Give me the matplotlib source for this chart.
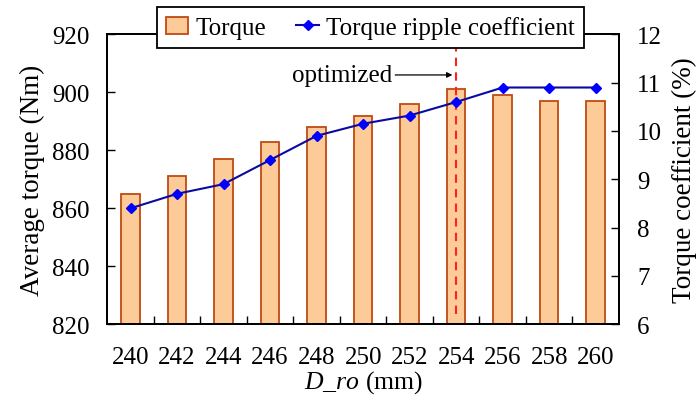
import matplotlib.pyplot as plt
from matplotlib.ticker import FixedLocator, NullFormatter

plt.rcParams['font.family'] = ['Liberation Serif', 'DejaVu Serif']
plt.rcParams['mathtext.fontset'] = 'custom'
plt.rcParams['mathtext.rm'] = 'Liberation Serif'
plt.rcParams['mathtext.it'] = 'Liberation Serif:italic'

# Данные
d_ro = ['240', '242', '244', '246', '248', '250', '252', '254', '256', '258', '260']
torque = [865, 871, 877, 883, 888, 892, 896, 901, 899, 897, 897]
ripple = [8.4, 8.7, 8.9, 9.4, 9.9, 10.15, 10.32, 10.6, 10.9, 10.9, 10.9]
optimized_idx = 7

x = list(range(len(d_ro)))

fig = plt.figure(figsize=(6.97, 4.02), dpi=100)
ax = fig.add_axes([0.154, 0.191, 0.734, 0.721])

bars = ax.bar(x, torque, width=0.4, color='#FDCB98', edgecolor='#C04A12',
              linewidth=1.3, label='Torque', zorder=2)
ax.set_ylim(820, 920)
ax.set_xlim(-0.5, len(d_ro) - 0.5)
ax.set_yticks([820, 840, 860, 880, 900, 920])
ax.set_xticks(x)
ax.set_xticklabels(d_ro)
ax.xaxis.set_minor_locator(FixedLocator([i + 0.5 for i in x[:-1]]))
ax.xaxis.set_minor_formatter(NullFormatter())
ax.tick_params(axis='x', which='major', length=0, pad=16, labelsize=18)
ax.tick_params(axis='x', which='minor', direction='in', length=6, width=1)
ax.tick_params(axis='y', direction='in', length=6, width=1, pad=13, labelsize=18)
ax.set_ylabel('Average torque (Nm)', fontsize=19.5, labelpad=5)
ax.set_xlabel(r'$\it{D\_ro}$ (mm)', fontsize=18.5, labelpad=0)
for s in ax.spines.values():
    s.set_linewidth(1.3)

ax2 = ax.twinx()
line, = ax2.plot(x, ripple, color='#0A0AA0', linewidth=1.5, marker='D',
                 markersize=5, markerfacecolor='#0000FF', markeredgecolor='#0000FF',
                 label='Torque ripple coefficient', zorder=3)
ax2.set_ylim(6, 12)
ax2.set_yticks([6, 7, 8, 9, 10, 11, 12])
ax2.tick_params(axis='y', direction='in', length=6, width=1, pad=13, labelsize=18)
ax2.set_ylabel('Torque coefficient (%)', fontsize=19.5, labelpad=7)
for s in ax2.spines.values():
    s.set_linewidth(1.3)

# линия оптимума
ax2.axvline(optimized_idx, ymin=0.035, ymax=0.96, color='#FF2020',
            linestyle=(0, (4, 3)), linewidth=1.5, zorder=1)
ax2.annotate('optimized', xy=(6.92, 11.16), xytext=(5.63, 11.16), fontsize=18,
             ha='right', va='center',
             arrowprops=dict(arrowstyle='-|>', color='black', lw=0.9,
                             shrinkA=0, shrinkB=0, mutation_scale=8))

leg = ax2.legend([bars, line], ['Torque', 'Torque ripple coefficient'],
                 loc='center', bbox_to_anchor=(0.514, 1.023), ncol=2, fontsize=18,
                 frameon=True, fancybox=False, edgecolor='black', framealpha=1,
                 borderpad=0.35, handlelength=0.9, handleheight=0.7,
                 handletextpad=0.3, columnspacing=1.2, borderaxespad=0)
leg.get_frame().set_linewidth(1.3)
leg.set_zorder(10)

fig.savefig('out.png', dpi=100)
